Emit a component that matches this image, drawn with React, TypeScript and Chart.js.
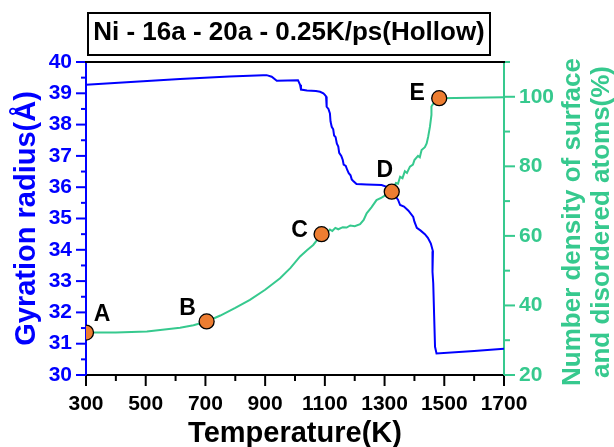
import React, { useEffect, useRef } from "react";
import { Chart, registerables } from "chart.js";

Chart.register(...registerables);

// ---- data ----
const blueTemperature = [300, 450, 615, 780, 893, 905, 922, 939, 975, 1010, 1017, 1020, 1040, 1070, 1084, 1095, 1100, 1104, 1106, 1112, 1117, 1119, 1123, 1128, 1131, 1136, 1140, 1145, 1148, 1155, 1160, 1163, 1170, 1175, 1180, 1186, 1190, 1195, 1206, 1240, 1290, 1305, 1315, 1325, 1335, 1345, 1352, 1365, 1380, 1396, 1400, 1408, 1420, 1435, 1445, 1455, 1462, 1459, 1462, 1463, 1466, 1469, 1474, 1600, 1700];
const gyrationRadius = [39.27, 39.36, 39.46, 39.54, 39.58, 39.58, 39.53, 39.40, 39.41, 39.42, 39.27, 39.12, 39.09, 39.07, 39.05, 39.0, 38.95, 38.9, 38.57, 38.5, 38.36, 38.1, 37.93, 37.85, 37.65, 37.6, 37.4, 37.3, 37.1, 37.0, 36.87, 36.72, 36.68, 36.55, 36.45, 36.38, 36.25, 36.2, 36.1, 36.09, 36.07, 36.02, 35.95, 35.85, 35.72, 35.6, 35.43, 35.38, 35.25, 35.05, 34.9, 34.7, 34.62, 34.5, 34.38, 34.2, 33.95, 33.75, 33.3, 32.93, 31.9, 30.9, 30.69, 30.77, 30.84];

const greenTemperature = [300, 400, 504, 615, 660, 704, 750, 800, 849, 900, 950, 985, 1017, 1040, 1061, 1075, 1089, 1100, 1108, 1117, 1125, 1135, 1145, 1160, 1173, 1185, 1200, 1218, 1230, 1240, 1256, 1273, 1290, 1305, 1324, 1338, 1345, 1352, 1360, 1368, 1375, 1385, 1395, 1400, 1412, 1418, 1424, 1435, 1441, 1446, 1452, 1457, 1457, 1465, 1483, 1700];
const disorderedDensity = [32.2, 32.25, 32.5, 33.6, 34.3, 35.4, 37.1, 39.3, 41.6, 44.5, 47.8, 50.8, 54.1, 55.9, 57.4, 58.9, 60.5, 61.3, 61.0, 61.8, 61.4, 62.3, 61.9, 62.5, 62.4, 63.0, 62.8, 63.4, 64.6, 66.5, 68.2, 70.3, 71.0, 71.8, 72.7, 75.2, 75.0, 77.0, 76.6, 78.6, 78.1, 79.9, 80.5, 81.8, 83.0, 82.6, 84.7, 85.5, 86.6, 88.5, 91.4, 94.8, 97.2, 98.3, 99.6, 99.9];

const markerNames = ["A", "B", "C", "D", "E"];
const markerTemperature = [300, 704, 1089, 1324, 1483];
const markerDensity = [32.2, 35.4, 60.5, 72.7, 99.6];

const xTickLabels = [300, 500, 700, 900, 1100, 1300, 1500, 1700];
const leftTickLabels = [30, 31, 32, 33, 34, 35, 36, 37, 38, 39, 40];
const rightTickLabels = [20, 40, 60, 80, 100];

const titleText = "Ni - 16a - 20a - 0.25K/ps(Hollow)";
const xTitle = "Temperature(K)";
const leftTitle = "Gyration radius(Å)";
const rightTitleLines = ["Number density of surface", "and disordered atoms(%)"];

// ---- styles ----
const BLUE = "#0000FF";
const GREEN = "#36C98E";
const ORANGE = "#ED7D31";
const FONT = "Arial, 'Liberation Sans', sans-serif";
const labelOffsets = [
  [16, -18],
  [-19, -13],
  [-22, -3],
  [-7, -21],
  [-22, -5],
];

const near = (a: number, b: number) => Math.abs(a - b) < 1e-6;

const decorPlugin = {
  id: "decor",
  afterDraw(chart: any) {
    const ctx = chart.ctx as CanvasRenderingContext2D;
    const { x, y, y1 } = chart.scales;
    const area = chart.chartArea;
    ctx.save();
    ctx.lineWidth = 2;
    // x ticks
    ctx.strokeStyle = "#000";
    x.ticks.forEach((t: any) => {
      const px = x.getPixelForValue(t.value);
      const major = xTickLabels.some((v) => near(v, t.value));
      ctx.beginPath();
      ctx.moveTo(px, area.bottom);
      ctx.lineTo(px, area.bottom + (major ? 11 : 6));
      ctx.stroke();
    });
    // left ticks
    ctx.strokeStyle = BLUE;
    y.ticks.forEach((t: any) => {
      const py = y.getPixelForValue(t.value);
      const major = leftTickLabels.some((v) => near(v, t.value));
      ctx.beginPath();
      ctx.moveTo(area.left, py);
      ctx.lineTo(area.left - (major ? 10 : 5), py);
      ctx.stroke();
    });
    // right ticks
    ctx.strokeStyle = GREEN;
    y1.ticks.forEach((t: any) => {
      const py = y1.getPixelForValue(t.value);
      const major = rightTickLabels.some((v) => near(v, t.value));
      ctx.beginPath();
      ctx.moveTo(area.right, py);
      ctx.lineTo(area.right + (major ? 11 : 6), py);
      ctx.stroke();
    });
    // top border
    ctx.strokeStyle = "#000";
    ctx.beginPath();
    ctx.moveTo(area.left - 1, area.top);
    ctx.lineTo(area.right + 1, area.top);
    ctx.stroke();

    // title box
    ctx.lineWidth = 2;
    ctx.strokeRect(88, 13, 402, 42);
    ctx.fillStyle = "#000";
    ctx.font = `bold 26px ${FONT}`;
    ctx.textAlign = "center";
    ctx.textBaseline = "alphabetic";
    ctx.fillText(titleText, 289, 39.5);

    // right axis title
    ctx.fillStyle = GREEN;
    ctx.font = `bold 26px ${FONT}`;
    ctx.textBaseline = "middle";
    const cx = [573, 602];
    rightTitleLines.forEach((line, i) => {
      ctx.save();
      ctx.translate(cx[i], 222);
      ctx.rotate(-Math.PI / 2);
      ctx.fillText(line, 0, 0);
      ctx.restore();
    });

    // marker letters
    const meta = chart.getDatasetMeta(0);
    ctx.fillStyle = "#000";
    ctx.font = `bold 23px ${FONT}`;
    ctx.textAlign = "center";
    ctx.textBaseline = "middle";
    meta.data.forEach((el: any, i: number) => {
      ctx.fillText(markerNames[i], el.x + labelOffsets[i][0], el.y + labelOffsets[i][1]);
    });
    ctx.restore();
  },
};

export default function App() {
  const ref = useRef<HTMLCanvasElement | null>(null);
  useEffect(() => {
    document.body.style.margin = "0";
    const canvas = ref.current!;
    const chart = new Chart(canvas, {
      type: "line",
      data: {
        datasets: [
          {
            label: "markers",
            data: markerTemperature.map((t, i) => ({ x: t, y: markerDensity[i] })),
            yAxisID: "y1",
            showLine: false,
            pointRadius: 7.5,
            pointBackgroundColor: ORANGE,
            pointBorderColor: "#000",
            pointBorderWidth: 1.3,
          },
          {
            label: "Gyration radius",
            data: blueTemperature.map((t, i) => ({ x: t, y: gyrationRadius[i] })),
            yAxisID: "y",
            borderColor: BLUE,
            borderWidth: 2,
            pointRadius: 0,
            tension: 0,
          },
          {
            label: "Disordered atoms",
            data: greenTemperature.map((t, i) => ({ x: t, y: disorderedDensity[i] })),
            yAxisID: "y1",
            borderColor: GREEN,
            borderWidth: 2,
            pointRadius: 0,
            tension: 0,
          },
        ],
      },
      options: {
        responsive: false,
        animation: false,
        devicePixelRatio: 1,
        layout: { padding: { top: 62, left: 0, right: 0, bottom: 0 } },
        plugins: {
          legend: { display: false },
          tooltip: { enabled: false },
          title: { display: false },
        },
        scales: {
          x: {
            type: "linear",
            min: 300,
            max: 1700,
            afterFit: (s: any) => {
              s.height = 72;
            },
            ticks: {
              stepSize: 100,
              autoSkip: false,
              maxRotation: 0,
              padding: 7,
              color: "#000",
              font: { family: FONT, size: 21, weight: "bold" },
              callback: (v: any) => (xTickLabels.some((l) => near(l, Number(v))) ? String(v) : ""),
            },
            grid: { display: true, drawOnChartArea: false, drawTicks: true, tickLength: 10, tickColor: "transparent" },
            border: { display: true, color: "#000", width: 2 },
            title: {
              display: true,
              text: xTitle,
              color: "#000",
              font: { family: FONT, size: 29, weight: "bold", lineHeight: 0.9 },
              padding: { top: 0, bottom: 0 },
            },
          },
          y: {
            type: "linear",
            position: "left",
            min: 30,
            max: 40,
            afterFit: (s: any) => {
              s.width = 86;
            },
            ticks: {
              stepSize: 0.5,
              autoSkip: false,
              padding: 4,
              color: BLUE,
              font: { family: FONT, size: 21, weight: "bold" },
              callback: (v: any) => (leftTickLabels.some((l) => near(l, Number(v))) ? String(v) : ""),
            },
            grid: { display: true, drawOnChartArea: false, drawTicks: true, tickLength: 10, tickColor: "transparent" },
            border: { display: true, color: BLUE, width: 2 },
            title: {
              display: true,
              text: leftTitle,
              color: BLUE,
              font: { family: FONT, size: 29, weight: "bold", lineHeight: 1 },
              padding: { top: 12, bottom: 0 },
            },
          },
          y1: {
            type: "linear",
            position: "right",
            min: 20,
            max: 110,
            afterFit: (s: any) => {
              s.width = 110;
            },
            ticks: {
              stepSize: 10,
              autoSkip: false,
              padding: 4,
              color: GREEN,
              font: { family: FONT, size: 21, weight: "bold" },
              callback: (v: any) => (rightTickLabels.some((l) => near(l, Number(v))) ? String(v) : ""),
            },
            grid: { display: true, drawOnChartArea: false, drawTicks: true, tickLength: 11, tickColor: "transparent" },
            border: { display: true, color: GREEN, width: 2 },
          },
        },
      },
      plugins: [decorPlugin],
    });
    return () => chart.destroy();
  }, []);
  return (
    <div style={{ position: "fixed", left: 0, top: 0, width: 614, height: 447, background: "#fff" }}>
      <canvas ref={ref} width={614} height={447} style={{ width: 614, height: 447, display: "block" }} />
    </div>
  );
}
